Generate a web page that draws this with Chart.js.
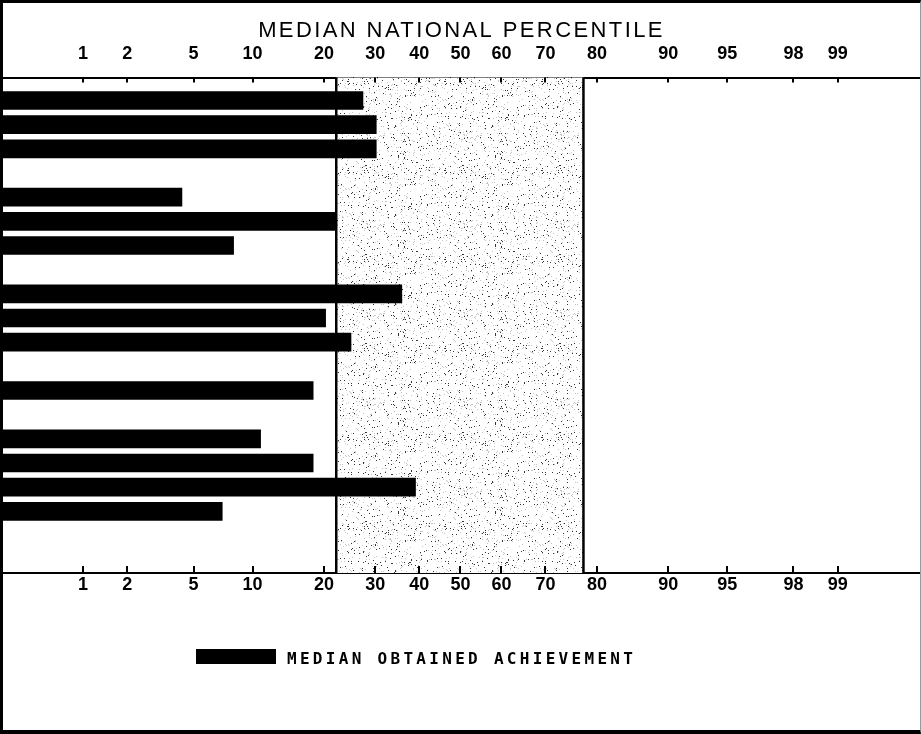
<!DOCTYPE html>
<html>
<head>
<meta charset="utf-8">
<script src="https://cdn.jsdelivr.net/npm/chart.js@4.4.1/dist/chart.umd.min.js"></script>
<style>
  html, body { margin: 0; padding: 0; background: #fff; }
  #wrap { position: relative; width: 921px; height: 734px; overflow: hidden; background: #fff; }
  #c { position: absolute; left: 0; top: 0; }
  #frame { position: absolute; left: 0; top: 0; width: 921px; height: 734px; box-sizing: border-box;
           border-top: 3px solid #000; border-left: 3px solid #000; border-bottom: 4px solid #000;
           border-right: 1px solid #999; pointer-events: none; }
  #legend { position: absolute; left: 196px; top: 649px; }
  #legend .box { position: absolute; left: 0; top: 0; width: 80px; height: 15px; background: #000; }
  #legend .txt { position: absolute; left: 91px; top: 2px; white-space: nowrap;
                 font: bold 16px/16px "DejaVu Sans Mono", "Liberation Mono", monospace;
                 letter-spacing: 3.3px; color: #000; }
</style>
</head>
<body>
<div id="wrap">
  <canvas id="c" width="921" height="734"></canvas>
  <div id="legend"></div>
  <div id="frame"></div>
</div>
<script>
// ---------------- data ----------------
const chartTitle = 'MEDIAN NATIONAL PERCENTILE';
const seriesLabel = 'MEDIAN OBTAINED ACHIEVEMENT';
// rows from top to bottom ('' = blank spacer row)
const categories = ['A1', 'A2', 'A3', '', 'B1', 'B2', 'B3', '', 'C1', 'C2', 'C3', '', 'D1', '', 'E1', 'E2', 'E3', 'E4', '', ''];
// median national percentile per row
const medianPercentile = [27.4, 30.2, 30.2, null, 4.3, 22.1, 8.1, null, 35.9, 20.3, 25.0, null, 18.2, null, 10.9, 18.2, 39.1, 7.1, null, null];
// percentile tick labels on the normal-probability axis
const tickValues = [1, 2, 5, 10, 20, 30, 40, 50, 60, 70, 80, 90, 95, 98, 99];
// shaded "average" band (percentiles)
const averageBand = [22.2, 77.6];
// axis extent (percentiles)
const axisRange = [0.24, 99.77];

// ---------------- normal-probability (probit) scale ----------------
function normInv(p) {
  const a = [-3.969683028665376e+01, 2.209460984245205e+02, -2.759285104469687e+02, 1.383577518672690e+02, -3.066479806614716e+01, 2.506628277459239e+00];
  const b = [-5.447609879822406e+01, 1.615858368580409e+02, -1.556989798598866e+02, 6.680131188771972e+01, -1.328068155288572e+01];
  const c = [-7.784894002430293e-03, -3.223964580411365e-01, -2.400758277161838e+00, -2.549732539343734e+00, 4.374664141464968e+00, 2.938163982698783e+00];
  const d = [7.784695709041462e-03, 3.224671290700398e-01, 2.445134137142996e+00, 3.754408661907416e+00];
  const pl = 0.02425, ph = 1 - pl;
  let q, r;
  if (p < pl) {
    q = Math.sqrt(-2 * Math.log(p));
    return (((((c[0]*q+c[1])*q+c[2])*q+c[3])*q+c[4])*q+c[5]) / ((((d[0]*q+d[1])*q+d[2])*q+d[3])*q+1);
  }
  if (p <= ph) {
    q = p - 0.5; r = q * q;
    return (((((a[0]*r+a[1])*r+a[2])*r+a[3])*r+a[4])*r+a[5])*q / (((((b[0]*r+b[1])*r+b[2])*r+b[3])*r+b[4])*r+1);
  }
  q = Math.sqrt(-2 * Math.log(1 - p));
  return -(((((c[0]*q+c[1])*q+c[2])*q+c[3])*q+c[4])*q+c[5]) / ((((d[0]*q+d[1])*q+d[2])*q+d[3])*q+1);
}
function normCdf(z) {
  const x = Math.abs(z) / Math.SQRT2;
  const t = 1 / (1 + 0.3275911 * x);
  const y = 1 - (((((1.061405429*t - 1.453152027)*t) + 1.421413741)*t - 0.284496736)*t + 0.254829592)*t*Math.exp(-x*x);
  return z >= 0 ? 0.5 * (1 + y) : 0.5 * (1 - y);
}

class ProbitScale extends Chart.Scale {
  static id = 'probit';
  static defaults = {};
  parse(raw, index) { return Chart.LinearScale.prototype.parse.call(this, raw, index); }
  determineDataLimits() {
    this.min = this.options.min;
    this.max = this.options.max;
  }
  buildTicks() {
    const vals = this.options.tickValues || tickValues;
    return vals.map(v => ({ value: v }));
  }
  configure() {
    super.configure();
    this._zMin = normInv(this.min / 100);
    this._zMax = normInv(this.max / 100);
  }
  getLabelForValue(v) { return String(v); }
  getPixelForValue(v) {
    if (v === null || v === undefined || isNaN(v)) return NaN;
    const cl = Math.min(Math.max(v, this.min), this.max);
    return this.getPixelForDecimal((normInv(cl / 100) - this._zMin) / (this._zMax - this._zMin));
  }
  getValueForPixel(px) {
    const z = this._zMin + this.getDecimalForPixel(px) * (this._zMax - this._zMin);
    return normCdf(z) * 100;
  }
}
Chart.register(ProbitScale);

// ---------------- stipple pattern for the band ----------------
function makeStipple() {
  const w = 97, h = 89;
  const cv = document.createElement('canvas');
  cv.width = w; cv.height = h;
  const g = cv.getContext('2d');
  g.fillStyle = '#fff'; g.fillRect(0, 0, w, h);
  const hash = (x, y) => {
    let v = (x * 374761393 + y * 668265263) | 0;
    v = Math.imul(v ^ (v >>> 13), 1274126177);
    v = v ^ (v >>> 16);
    return (v >>> 0) / 4294967296;
  };
  for (let y = 0; y < h; y++) {
    for (let x = 0; x < w; x++) {
      const r = hash(x, y);
      if (r < 0.03) { g.fillStyle = '#333'; g.fillRect(x, y, 1, 1); }
      else if (r < 0.08) { g.fillStyle = '#c4c4c4'; g.fillRect(x, y, 1, 1); }
    }
  }
  return cv;
}
const stippleCanvas = makeStipple();

const bandPlugin = {
  id: 'band',
  beforeDatasetsDraw(chart) {
    const { ctx, chartArea } = chart;
    const s = chart.scales.x;
    const x1 = s.getPixelForValue(averageBand[0]);
    const x2 = s.getPixelForValue(averageBand[1]);
    ctx.save();
    ctx.fillStyle = ctx.createPattern(stippleCanvas, 'repeat');
    ctx.fillRect(x1, chartArea.top, x2 - x1, chartArea.bottom - chartArea.top);
    ctx.strokeStyle = '#000';
    ctx.lineWidth = 2.5;
    [x1, x2].forEach(px => {
      ctx.beginPath();
      ctx.moveTo(px, chartArea.top);
      ctx.lineTo(px, chartArea.bottom);
      ctx.stroke();
    });
    ctx.restore();
  }
};

const innerTicksPlugin = {
  id: 'innerTicks',
  afterDatasetsDraw(chart) {
    const { ctx, chartArea } = chart;
    ctx.save();
    ctx.strokeStyle = '#000';
    ctx.lineWidth = 2;
    ['x', 'x2'].forEach(id => {
      const s = chart.scales[id];
      const isTop = s.position === 'top';
      s.ticks.forEach((t, i) => {
        const px = Math.round(s.getPixelForTick(i));
        ctx.beginPath();
        if (isTop) { ctx.moveTo(px, chartArea.top); ctx.lineTo(px, chartArea.top + 5); }
        else { ctx.moveTo(px, chartArea.bottom); ctx.lineTo(px, chartArea.bottom - 7); }
        ctx.stroke();
      });
    });
    ctx.restore();
  }
};

const htmlLegendPlugin = {
  id: 'htmlLegend',
  afterUpdate(chart) {
    const el = document.getElementById('legend');
    el.innerHTML = '';
    chart.data.datasets.forEach(ds => {
      const box = document.createElement('span');
      box.className = 'box';
      box.style.background = ds.backgroundColor;
      const txt = document.createElement('span');
      txt.className = 'txt';
      txt.textContent = ds.label;
      el.appendChild(box);
      el.appendChild(txt);
    });
  }
};

// ---------------- chart ----------------
const rows = categories
  .map((c, i) => ({ x: medianPercentile[i], y: i }))
  .filter(d => d.x !== null);

const tickFont = { family: '"Liberation Sans Narrow", "Liberation Sans", Arial, sans-serif', size: 18, weight: 'bold', lineHeight: 1.2 };

const xCommon = {
  type: 'probit',
  min: axisRange[0],
  max: axisRange[1],
  tickValues: tickValues,
  border: { display: true, color: '#000', width: 2 },
  ticks: { font: tickFont, color: '#000', padding: 1.7, autoSkip: false, maxRotation: 0, minRotation: 0,
           callback: v => String(v) }
};

const chart = new Chart(document.getElementById('c'), {
  type: 'bar',
  data: {
    datasets: [{
      label: seriesLabel,
      data: rows,
      backgroundColor: '#000',
      borderWidth: 0,
      barThickness: 18,
      xAxisID: 'x',
      yAxisID: 'y'
    }]
  },
  options: {
    indexAxis: 'y',
    responsive: false,
    animation: false,
    devicePixelRatio: 1,
    layout: { padding: { top: 0, left: 3, right: 1, bottom: 136 } },
    plugins: {
      legend: { display: false },
      tooltip: { enabled: false },
      title: {
        display: true,
        text: chartTitle,
        color: '#000',
        font: { family: '"Liberation Sans", Arial, sans-serif', size: 22, weight: 'normal', lineHeight: 1 },
        padding: { top: 19.5, bottom: 0 }
      }
    },
    scales: {
      y: { type: 'linear', reverse: true, min: -0.95, max: categories.length - 0.45, bounds: 'data', offset: false, display: false },
      x: Object.assign({}, xCommon, {
        position: 'bottom',
        grid: { display: true, drawOnChartArea: false, drawTicks: false }
      }),
      x2: Object.assign({}, xCommon, {
        position: 'top',
        grid: { display: true, drawOnChartArea: false, drawTicks: true, tickLength: 11, tickColor: 'rgba(0,0,0,0)' }
      })
    }
  },
  plugins: [bandPlugin, innerTicksPlugin, htmlLegendPlugin]
});

// letter-spaced title, as in the original typesetting
(function () {
  const tb = chart.titleBlock;
  if (!tb) return;
  const orig = tb.draw;
  tb.draw = function (...args) {
    const c = this.ctx;
    c.save();
    c.letterSpacing = '2.4px';
    orig.apply(this, args);
    c.restore();
  };
  chart.draw();
})();
</script>
</body>
</html>
